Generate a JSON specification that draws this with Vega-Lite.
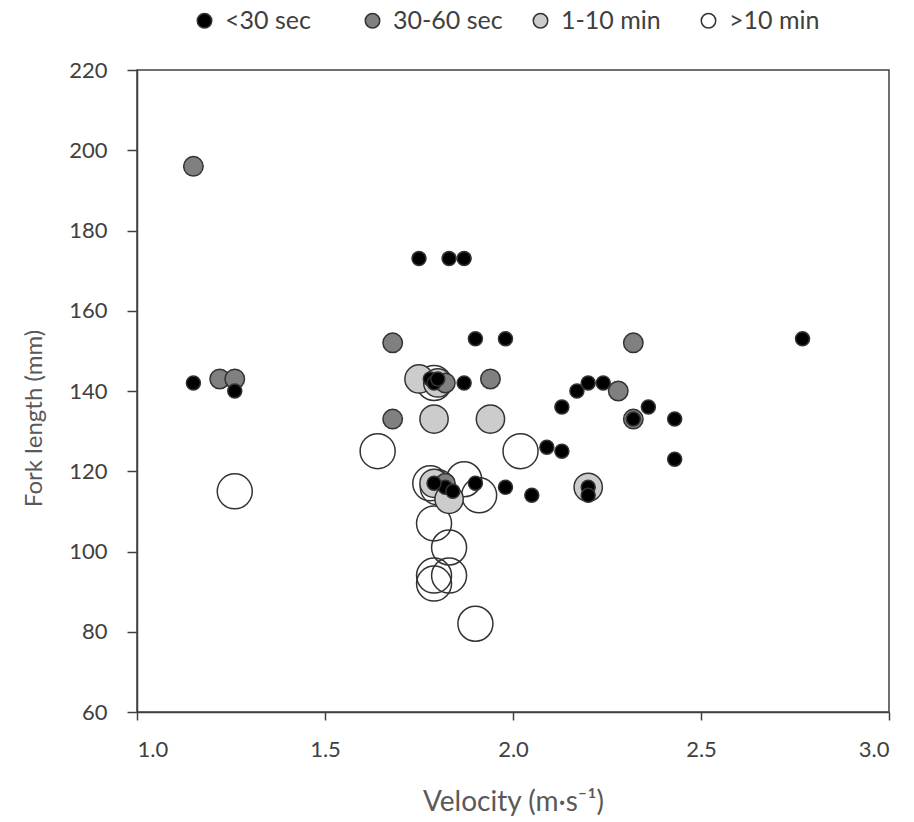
{
  "$schema": "https://vega.github.io/schema/vega-lite/v6.json",
  "width": 752,
  "height": 642,
  "autosize": {"type": "none"},
  "padding": {"left": 137, "top": 70, "right": 25, "bottom": 110},
  "background": "white",
  "data": {
    "values": [
      {"v": 1.26, "fl": 115, "t": ">10 min"},
      {"v": 1.64, "fl": 125, "t": ">10 min"},
      {"v": 2.02, "fl": 125, "t": ">10 min"},
      {"v": 1.79, "fl": 142, "t": ">10 min"},
      {"v": 1.78, "fl": 117, "t": ">10 min"},
      {"v": 1.80, "fl": 116, "t": ">10 min"},
      {"v": 1.87, "fl": 118, "t": ">10 min"},
      {"v": 1.91, "fl": 114, "t": ">10 min"},
      {"v": 1.79, "fl": 107, "t": ">10 min"},
      {"v": 1.83, "fl": 101, "t": ">10 min"},
      {"v": 1.79, "fl": 94, "t": ">10 min"},
      {"v": 1.83, "fl": 94, "t": ">10 min"},
      {"v": 1.79, "fl": 92, "t": ">10 min"},
      {"v": 1.90, "fl": 82, "t": ">10 min"},
      {"v": 1.75, "fl": 143, "t": "1-10 min"},
      {"v": 1.79, "fl": 133, "t": "1-10 min"},
      {"v": 1.94, "fl": 133, "t": "1-10 min"},
      {"v": 1.80, "fl": 142, "t": "1-10 min"},
      {"v": 1.79, "fl": 117, "t": "1-10 min"},
      {"v": 1.83, "fl": 113, "t": "1-10 min"},
      {"v": 2.20, "fl": 116, "t": "1-10 min"},
      {"v": 1.15, "fl": 196, "t": "30-60 sec"},
      {"v": 1.22, "fl": 143, "t": "30-60 sec"},
      {"v": 1.26, "fl": 143, "t": "30-60 sec"},
      {"v": 1.68, "fl": 152, "t": "30-60 sec"},
      {"v": 1.68, "fl": 133, "t": "30-60 sec"},
      {"v": 1.94, "fl": 143, "t": "30-60 sec"},
      {"v": 2.32, "fl": 152, "t": "30-60 sec"},
      {"v": 2.28, "fl": 140, "t": "30-60 sec"},
      {"v": 2.32, "fl": 133, "t": "30-60 sec"},
      {"v": 1.82, "fl": 142, "t": "30-60 sec"},
      {"v": 1.82, "fl": 117, "t": "30-60 sec"},
      {"v": 1.15, "fl": 142, "t": "<30 sec"},
      {"v": 1.26, "fl": 140, "t": "<30 sec"},
      {"v": 1.75, "fl": 173, "t": "<30 sec"},
      {"v": 1.83, "fl": 173, "t": "<30 sec"},
      {"v": 1.87, "fl": 173, "t": "<30 sec"},
      {"v": 1.90, "fl": 153, "t": "<30 sec"},
      {"v": 1.98, "fl": 153, "t": "<30 sec"},
      {"v": 2.77, "fl": 153, "t": "<30 sec"},
      {"v": 1.78, "fl": 143, "t": "<30 sec"},
      {"v": 1.79, "fl": 142, "t": "<30 sec"},
      {"v": 1.80, "fl": 143, "t": "<30 sec"},
      {"v": 1.87, "fl": 142, "t": "<30 sec"},
      {"v": 2.17, "fl": 140, "t": "<30 sec"},
      {"v": 2.20, "fl": 142, "t": "<30 sec"},
      {"v": 2.24, "fl": 142, "t": "<30 sec"},
      {"v": 2.13, "fl": 136, "t": "<30 sec"},
      {"v": 2.36, "fl": 136, "t": "<30 sec"},
      {"v": 2.32, "fl": 133, "t": "<30 sec"},
      {"v": 2.43, "fl": 133, "t": "<30 sec"},
      {"v": 2.09, "fl": 126, "t": "<30 sec"},
      {"v": 2.13, "fl": 125, "t": "<30 sec"},
      {"v": 2.43, "fl": 123, "t": "<30 sec"},
      {"v": 1.90, "fl": 117, "t": "<30 sec"},
      {"v": 1.98, "fl": 116, "t": "<30 sec"},
      {"v": 2.05, "fl": 114, "t": "<30 sec"},
      {"v": 2.20, "fl": 116, "t": "<30 sec"},
      {"v": 2.20, "fl": 114, "t": "<30 sec"},
      {"v": 1.82, "fl": 116, "t": "<30 sec"},
      {"v": 1.84, "fl": 115, "t": "<30 sec"},
      {"v": 1.79, "fl": 117, "t": "<30 sec"}
    ]
  },
  "mark": {"type": "point", "shape": "circle", "filled": true, "stroke": "#333333", "strokeWidth": 1.5, "opacity": 1, "fillOpacity": 1},
  "encoding": {
    "x": {
      "field": "v", "type": "quantitative",
      "scale": {"domain": [1, 3], "nice": false, "zero": false},
      "axis": {"values": [1, 1.5, 2, 2.5, 3], "format": ".1f", "tickSize": 8, "labelPadding": 19, "title": "Velocity (m·s⁻¹)", "titlePadding": 28, "titleFontSize": 28}
    },
    "y": {
      "field": "fl", "type": "quantitative",
      "scale": {"domain": [60, 220], "nice": false, "zero": false},
      "axis": {"values": [60, 80, 100, 120, 140, 160, 180, 200, 220], "tickSize": 10, "labelPadding": 20, "title": "Fork length (mm)", "titlePadding": 22, "titleY": 348}
    },
    "fill": {
      "field": "t", "type": "nominal",
      "scale": {"domain": ["<30 sec", "30-60 sec", "1-10 min", ">10 min"], "range": ["#000000", "#808080", "#cccccc", "rgba(255,255,255,0)"]},
      "legend": {
        "title": null, "orient": "none", "legendX": 55, "legendY": -62, "direction": "horizontal", "columns": 4,
        "gridAlign": "all", "columnPadding": 25, "symbolType": "circle", "symbolStrokeColor": "#333333", "symbolStrokeWidth": 1.5, "symbolSize": 210,
        "labelFont": "Lato", "labelFontSize": 25, "labelColor": "#404040", "labelOffset": 8, "labelLimit": 200
      }
    },
    "size": {
      "condition": [
        {"test": "datum.t === '<30 sec'", "value": 196},
        {"test": "datum.t === '30-60 sec'", "value": 380},
        {"test": "datum.t === '1-10 min'", "value": 800}
      ],
      "value": 1225
    }
  },
  "config": {
    "view": {"stroke": "#404040", "strokeWidth": 1.5},
    "axis": {
      "grid": false, "domainColor": "#404040", "domainWidth": 1.5, "tickColor": "#404040", "tickWidth": 1.5,
      "labelFont": "Lato", "labelFontSize": 22, "labelColor": "#404040",
      "titleFont": "Lato", "titleFontSize": 24, "titleFontWeight": "normal", "titleColor": "#595959"
    }
  }
}
